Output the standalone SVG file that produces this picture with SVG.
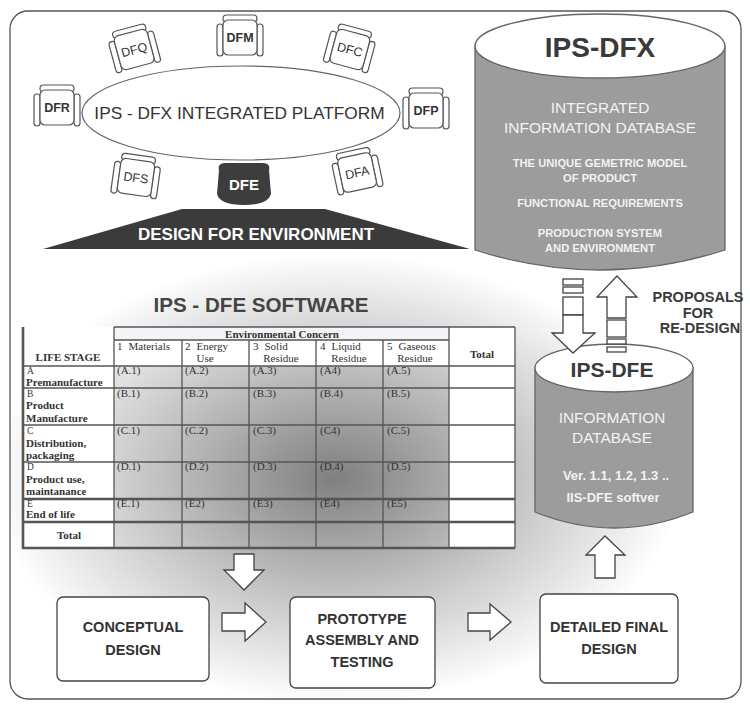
<svg xmlns="http://www.w3.org/2000/svg" width="750" height="704" viewBox="0 0 750 704">
<style>
.sans{font-family:"Liberation Sans",Arial,sans-serif}
.serif{font-family:"Liberation Serif","Times New Roman",serif;fill:#333}
.ch{fill:#fff;stroke:#555;stroke-width:1.2}
.chtxt{font-family:"Liberation Sans",Arial,sans-serif;font-size:12.5px;fill:#333;text-anchor:middle}
.dfe{font-family:"Liberation Sans",Arial,sans-serif;font-size:15px;font-weight:bold;fill:#fff;text-anchor:middle}
.blk{fill:#fff;stroke:#444;stroke-width:1.3}
.tl{stroke:#555;stroke-width:1.3;fill:none}
.tk{stroke:#555;stroke-width:2.6;fill:none}
.cell{font-size:11px}
.lbl{font-size:11px;font-weight:bold}
.sm{font-size:9.5px}
.btxt{font-family:"Liberation Sans",Arial,sans-serif;font-size:14.5px;font-weight:bold;fill:#333;text-anchor:middle}
.cyl{fill:#9c9c9c;stroke:#666;stroke-width:1.3}
.wt{fill:#f2f2f2;text-anchor:middle;font-family:"Liberation Sans",Arial,sans-serif}
</style>
<defs>
<radialGradient id="bg" gradientUnits="userSpaceOnUse" cx="0" cy="0" r="1" gradientTransform="translate(335 478) scale(345 225)">
<stop offset="0" stop-color="#7f7f7f"/>
<stop offset="0.3" stop-color="#a6a6a6"/>
<stop offset="0.6" stop-color="#cdcdcd"/>
<stop offset="0.85" stop-color="#ececec"/>
<stop offset="1" stop-color="#ffffff"/>
</radialGradient>
<g id="chair">
<rect class="ch" x="-23" y="-13" width="6" height="32" rx="3"/>
<rect class="ch" x="17" y="-13" width="6" height="32" rx="3"/>
<rect class="ch" x="-17" y="-22" width="34" height="7" rx="3.5"/>
<rect class="ch" x="-17" y="-17" width="34" height="35" rx="5"/>
</g>
</defs>

<g id="frame">
<rect x="10" y="11" width="731" height="688" rx="18" fill="#fff"/>
<rect x="10" y="11" width="731" height="688" rx="18" fill="url(#bg)"/>
<rect x="10" y="11" width="731" height="688" rx="18" fill="none" stroke="#555" stroke-width="1.3"/>
</g>

<g id="platform">
<ellipse cx="241" cy="113" rx="159" ry="47" fill="#fff" stroke="#666" stroke-width="1.2"/>
<text class="sans" x="239.5" y="119" font-size="17.3" fill="#333" text-anchor="middle">IPS - DFX INTEGRATED PLATFORM</text>
</g>

<g id="chair-dfq" transform="translate(134 49) rotate(-15)"><use href="#chair"/><text class="chtxt" y="5">DFQ</text></g>
<g id="chair-dfm" transform="translate(240 37)"><use href="#chair"/><text class="chtxt" y="5" font-weight="bold">DFM</text></g>
<g id="chair-dfc" transform="translate(350 49) rotate(15)"><use href="#chair"/><text class="chtxt" y="5">DFC</text></g>
<g id="chair-dfr" transform="translate(57 107)"><use href="#chair"/><text class="chtxt" y="5" font-weight="bold">DFR</text></g>
<g id="chair-dfp" transform="translate(426 110)"><use href="#chair"/><text class="chtxt" y="5" font-weight="bold">DFP</text></g>
<g id="chair-dfs" transform="translate(136 177) rotate(8)"><use href="#chair"/><text class="chtxt" y="5">DFS</text></g>
<g id="chair-dfa" transform="translate(357 172) rotate(-12)"><use href="#chair"/><text class="chtxt" y="5">DFA</text></g>
<g id="chair-dfe" transform="translate(244 184)">
<path d="M-25,-14 Q-27,-21 -18,-21 L18,-21 Q27,-21 25,-14 L27,10 Q24,21 0,21 Q-24,21 -27,10 Z" fill="#3d3d3d"/>
<text class="dfe" y="6">DFE</text>
</g>

<g id="design-for-environment">
<polygon points="43,249 182,209 325,209 470,249" fill="#3b3b3b"/>
<text class="sans" x="256" y="240" font-size="17" font-weight="bold" fill="#fff" text-anchor="middle">DESIGN FOR ENVIRONMENT</text>
</g>

<g id="ips-dfx">
<path class="cyl" d="M475,46 V250 Q600,290 725,250 V46 Z"/>
<ellipse cx="600" cy="46" rx="125" ry="32" fill="#fff" stroke="#666" stroke-width="1.3"/>
<text class="sans" x="600" y="57" font-size="28" font-weight="bold" fill="#3a3a3a" text-anchor="middle">IPS-DFX</text>
<text class="wt" x="600" y="113" font-size="15.5">INTEGRATED</text>
<text class="wt" x="600" y="133" font-size="15.5">INFORMATION DATABASE</text>
<text class="wt" x="600" y="167" font-size="11.2" font-weight="bold">THE UNIQUE GEMETRIC MODEL</text>
<text class="wt" x="600" y="182" font-size="11.2" font-weight="bold">OF PRODUCT</text>
<text class="wt" x="600" y="207" font-size="11.2" font-weight="bold">FUNCTIONAL REQUIREMENTS</text>
<text class="wt" x="600" y="237" font-size="11.2" font-weight="bold">PRODUCTION SYSTEM</text>
<text class="wt" x="600" y="252" font-size="11.2" font-weight="bold">AND ENVIRONMENT</text>
</g>

<g id="ips-dfe">
<path class="cyl" d="M535,368 V512 Q614,544 693,512 V368 Z"/>
<ellipse cx="614" cy="368" rx="79" ry="24" fill="#fff" stroke="#666" stroke-width="1.3"/>
<text class="sans" x="612" y="377" font-size="21" font-weight="bold" fill="#3a3a3a" text-anchor="middle">IPS-DFE</text>
<text class="wt" x="612" y="423" font-size="15.4">INFORMATION</text>
<text class="wt" x="612" y="443" font-size="15.4">DATABASE</text>
<text class="wt" x="616" y="480" font-size="13" font-weight="bold">Ver. 1.1, 1.2, 1.3 ..</text>
<text class="wt" x="613" y="502" font-size="13" font-weight="bold">IIS-DFE softver</text>
</g>

<g id="proposals-label">
<text class="sans" x="698" y="302" font-size="14.5" font-weight="bold" fill="#3a3a3a" text-anchor="middle">PROPOSALS</text>
<text class="sans" x="698" y="318" font-size="14.5" font-weight="bold" fill="#3a3a3a" text-anchor="middle">FOR</text>
<text class="sans" x="700" y="333" font-size="14.5" font-weight="bold" fill="#3a3a3a" text-anchor="middle">RE-DESIGN</text>
</g>

<g id="software-title">
<text class="sans" x="261" y="312" font-size="20.6" font-weight="bold" fill="#444" text-anchor="middle">IPS - DFE SOFTWARE</text>
</g>

<g id="table">
<rect x="23" y="327" width="91" height="221" fill="#fff"/>
<rect x="449" y="327" width="66" height="221" fill="#fff"/>
<rect x="114" y="340" width="335" height="26" fill="#fff"/>
<rect x="114" y="327" width="335" height="13" fill="#f2f4f7"/>
<path class="tl" d="M114,327 H515 M114,340 H449 M23,366 H515 M23,388 H515 M23,425 H515 M23,462 H515"/>
<path class="tk" d="M23,499 H515 M23,522 H515 M23,548 H515"/>
<path class="tl" d="M114,327 V548 M182,340 V548 M249,340 V548 M316,340 V548 M383,340 V548 M449,327 V548 M515,327 V548"/>
<path class="tk" d="M23,327 V549"/>
<g class="serif">
<text class="lbl" x="282" y="337.5" text-anchor="middle">Environmental Concern</text>
<text class="cell" x="117" y="350">1<tspan dx="6">Materials</tspan></text>
<text class="cell" x="185" y="350">2<tspan dx="6">Energy</tspan></text>
<text class="cell" x="205" y="362" text-anchor="middle">Use</text>
<text class="cell" x="253" y="350">3<tspan dx="6">Solid</tspan></text>
<text class="cell" x="281" y="362" text-anchor="middle">Residue</text>
<text class="cell" x="320" y="350">4<tspan dx="6">Liquid</tspan></text>
<text class="cell" x="349" y="362" text-anchor="middle">Residue</text>
<text class="cell" x="387" y="350">5<tspan dx="6">Gaseous</tspan></text>
<text class="cell" x="415" y="362" text-anchor="middle">Residue</text>
<text class="lbl" x="68" y="361" text-anchor="middle">LIFE STAGE</text>
<text class="lbl" x="482" y="358" text-anchor="middle">Total</text>
<text class="sm" x="27" y="374">A</text>
<text class="lbl" x="26" y="386">Premanufacture</text>
<text class="sm" x="27" y="397">B</text>
<text class="lbl" x="26" y="409">Product</text>
<text class="lbl" x="26" y="422">Manufacture</text>
<text class="sm" x="27" y="434">C</text>
<text class="lbl" x="26" y="447">Distribution,</text>
<text class="lbl" x="26" y="459">packaging</text>
<text class="sm" x="27" y="470">D</text>
<text class="lbl" x="26" y="483">Product use,</text>
<text class="lbl" x="26" y="495">maintanance</text>
<text class="sm" x="27" y="507">E</text>
<text class="lbl" x="26" y="518">End of life</text>
<text class="lbl" x="69" y="539" text-anchor="middle">Total</text>
<text class="cell" x="117" y="374">(A.1)</text><text class="cell" x="185" y="374">(A.2)</text><text class="cell" x="253" y="374">(A.3)</text><text class="cell" x="320" y="374">(A4)</text><text class="cell" x="387" y="374">(A.5)</text>
<text class="cell" x="117" y="397">(B.1)</text><text class="cell" x="185" y="397">(B.2)</text><text class="cell" x="253" y="397">(B.3)</text><text class="cell" x="320" y="397">(B.4)</text><text class="cell" x="387" y="397">(B.5)</text>
<text class="cell" x="117" y="434">(C.1)</text><text class="cell" x="185" y="434">(C.2)</text><text class="cell" x="253" y="434">(C.3)</text><text class="cell" x="320" y="434">(C4)</text><text class="cell" x="387" y="434">(C.5)</text>
<text class="cell" x="117" y="470">(D.1)</text><text class="cell" x="185" y="470">(D.2)</text><text class="cell" x="253" y="470">(D.3)</text><text class="cell" x="320" y="470">(D.4)</text><text class="cell" x="387" y="470">(D.5)</text>
<text class="cell" x="117" y="507">(E.1)</text><text class="cell" x="185" y="507">(E2)</text><text class="cell" x="253" y="507">(E3)</text><text class="cell" x="320" y="507">(E4)</text><text class="cell" x="387" y="507">(E5)</text>
</g>
</g>

<g id="conceptual-design">
<rect class="blk" x="57" y="597" width="152" height="84" rx="6"/>
<text class="btxt" x="133" y="632">CONCEPTUAL</text>
<text class="btxt" x="133" y="655">DESIGN</text>
</g>
<g id="prototype">
<rect class="blk" x="290" y="597" width="145" height="91" rx="6"/>
<text class="btxt" x="362" y="624">PROTOTYPE</text>
<text class="btxt" x="362" y="645">ASSEMBLY AND</text>
<text class="btxt" x="362" y="667">TESTING</text>
</g>
<g id="detailed-final-design">
<rect class="blk" x="540" y="594" width="138" height="89" rx="6"/>
<text class="btxt" x="609" y="632">DETAILED FINAL</text>
<text class="btxt" x="609" y="654">DESIGN</text>
</g>

<g id="connectors">
<path class="blk" d="M234,554 H254 V570 H264 L244,590 L224,570 H234 Z"/>
<path class="blk" d="M222,613 H245 V603 L266,622 L245,641 V631 H222 Z"/>
<path class="blk" d="M468,613 H490 V604 L511,622 L490,640 V631 H468 Z"/>
<path class="blk" d="M595,578 V555 H586 L605,536 L625,555 H615 V578 Z"/>
<rect class="blk" x="563" y="279" width="20" height="6"/>
<rect class="blk" x="563" y="287" width="20" height="6"/>
<rect class="blk" x="563" y="297" width="20" height="18"/>
<path class="blk" d="M563,315 H583 V333 H595 L573,353 L552,333 H563 Z"/>
<path class="blk" d="M607,318 V297 H597 L617,276 L637,297 H626 V318 Z"/>
<rect class="blk" x="607" y="320" width="19" height="17"/>
<rect class="blk" x="607" y="339" width="19" height="5"/>
<rect class="blk" x="607" y="347" width="19" height="5"/>
</g>
</svg>
